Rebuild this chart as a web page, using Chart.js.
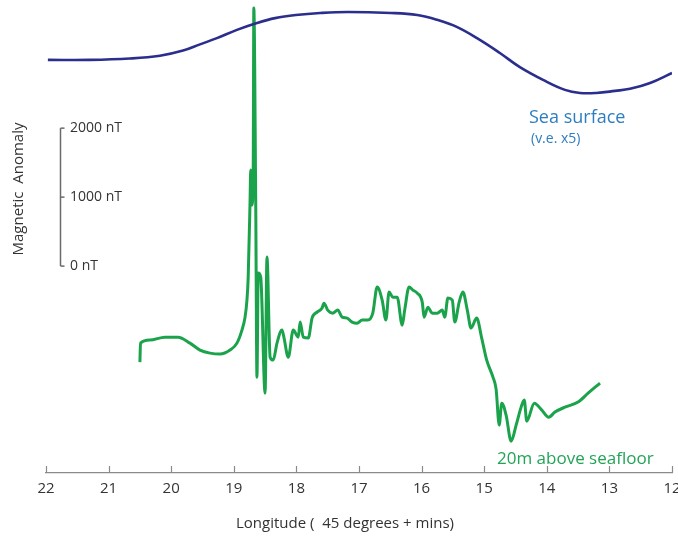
<!DOCTYPE html>
<html><head><meta charset="utf-8">
<script src="https://cdn.jsdelivr.net/npm/chart.js@4.4.0/dist/chart.umd.min.js"></script>
<style>html,body{margin:0;padding:0;background:#fff}</style>
</head><body>
<canvas id="c" width="678" height="537"></canvas>
<script>
// Longitude tick labels (minutes past 45 degrees)
const longitudeTicks = [22, 21, 20, 19, 18, 17, 16, 15, 14, 13, 12];
// Scale bar values (nT)
const scaleBarTicks = [0, 1000, 2000];

// Sea surface profile (v.e. x5), relative anomaly
const seaLon = [21.97, 21.30, 20.66, 20.18, 19.81, 19.54, 19.27, 18.95, 18.63, 18.34, 18.01, 17.62, 17.18, 16.49, 16.07, 15.75, 15.43, 15.07, 14.75, 14.43, 14.06, 13.71, 13.47, 13.21, 12.91, 12.67, 12.35, 12.00];
const seaVal = [-102, -102, -98, -90, -75, -57, -39, -15, 5, 19, 28, 34, 37, 34, 28, 14, -7, -44, -82, -123, -160, -189, -198, -198, -192, -186, -169, -140];

// 20 m above seafloor profile (nT)
const floorLon = [20.50, 20.49, 20.34, 20.10, 19.89, 19.70, 19.54, 19.38, 19.22, 19.06, 18.95, 18.87, 18.82, 18.79, 18.77, 18.74, 18.73, 18.71, 18.69, 18.68, 18.65, 18.63, 18.61, 18.57, 18.50, 18.47, 18.42, 18.37, 18.31, 18.23, 18.20, 18.13, 18.05, 17.97, 17.94, 17.89, 17.81, 17.75, 17.67, 17.59, 17.56, 17.50, 17.42, 17.34, 17.27, 17.19, 17.11, 17.03, 16.95, 16.86, 16.78, 16.71, 16.63, 16.57, 16.52, 16.46, 16.39, 16.31, 16.27, 16.20, 16.14, 16.07, 15.99, 15.96, 15.90, 15.83, 15.75, 15.67, 15.63, 15.58, 15.51, 15.47, 15.40, 15.34, 15.27, 15.21, 15.12, 15.04, 14.96, 14.86, 14.81, 14.76, 14.72, 14.65, 14.57, 14.49, 14.41, 14.36, 14.32, 14.20, 14.08, 13.97, 13.87, 13.71, 13.50, 13.34, 13.15];
const floorNT = [-1392, -1117, -1073, -1030, -1030, -1117, -1218, -1262, -1276, -1218, -1117, -928, -740, -493, -160, 957, 1392, 885, 1392, 3741, 957, -1610, -102, -160, -1842, 131, -1320, -1363, -1117, -928, -1030, -1320, -928, -1030, -812, -1030, -1044, -754, -667, -609, -537, -638, -682, -638, -740, -754, -812, -827, -783, -783, -682, -305, -493, -783, -377, -450, -450, -856, -638, -305, -348, -392, -522, -740, -595, -682, -682, -638, -740, -464, -493, -812, -522, -377, -638, -899, -754, -1044, -1363, -1610, -1784, -2306, -1987, -2161, -2538, -2306, -2045, -1943, -2248, -1987, -2088, -2190, -2117, -2045, -1972, -1842, -1697];

const FONT = '"Open Sans", "Noto Sans", sans-serif';

const seaData = seaLon.map((x, i) => ({x, y: seaVal[i]}));
const floorData = floorLon.map((x, i) => ({x, y: floorNT[i]}));

const decor = {
  id: 'decor',
  afterDraw(chart) {
    const ctx = chart.ctx;
    const xs = chart.scales.x, ys = chart.scales.y;
    const base = chart.chartArea.bottom;
    ctx.save();
    // upward tick marks on the longitude axis
    ctx.strokeStyle = '#8a8a8a';
    ctx.lineWidth = 1.2;
    longitudeTicks.forEach(v => {
      const px = Math.round(xs.getPixelForValue(v)) + 0.5;
      ctx.beginPath(); ctx.moveTo(px, base); ctx.lineTo(px, base - 7); ctx.stroke();
    });
    // vertical scale bar
    const bx = 60.5;
    const yTop = ys.getPixelForValue(scaleBarTicks[scaleBarTicks.length - 1]);
    const yBot = ys.getPixelForValue(scaleBarTicks[0]);
    ctx.strokeStyle = '#6a6a6a';
    ctx.lineWidth = 1.5;
    ctx.beginPath(); ctx.moveTo(bx, yTop); ctx.lineTo(bx, yBot); ctx.stroke();
    ctx.fillStyle = '#333';
    ctx.font = '14px ' + FONT;
    ctx.textBaseline = 'middle';
    ctx.textAlign = 'left';
    scaleBarTicks.forEach(v => {
      const py = ys.getPixelForValue(v);
      ctx.beginPath(); ctx.moveTo(bx, py); ctx.lineTo(bx + 4, py); ctx.stroke();
      ctx.fillText(v + ' nT', 70, py);
    });
    // axis label (rotated)
    ctx.save();
    ctx.translate(19, 189);
    ctx.rotate(-Math.PI / 2);
    ctx.textAlign = 'center';
    ctx.font = '15px ' + FONT;
    ctx.fillStyle = '#333';
    ctx.fillText('Magnetic  Anomaly', 0, 0);
    ctx.restore();
    // series labels
    ctx.textAlign = 'left';
    ctx.fillStyle = '#2e7dbf';
    ctx.font = '18px ' + FONT;
    ctx.fillText('Sea surface', 529, 118);
    ctx.font = '14px ' + FONT;
    ctx.fillText('(v.e. x5)', 531, 139);
    ctx.fillStyle = '#22a455';
    ctx.font = '17px ' + FONT;
    ctx.fillText('20m above seafloor', 497, 459);
    // x axis title
    ctx.fillStyle = '#333';
    ctx.font = '15px ' + FONT;
    ctx.textAlign = 'center';
    ctx.fillText('Longitude (  45 degrees + mins)', 345, 524);
    ctx.restore();
  }
};

new Chart(document.getElementById('c'), {
  type: 'line',
  data: {
    datasets: [
      {label: 'Sea surface', data: seaData, yAxisID: 'y2', borderColor: '#2b2e8c', borderWidth: 2.6, pointRadius: 0, tension: 0.4, fill: false},
      {label: '20m above seafloor', data: floorData, yAxisID: 'y', borderColor: '#1ba34c', borderWidth: 3, pointRadius: 0, cubicInterpolationMode: 'monotone', fill: false, clip: false}
    ]
  },
  options: {
    responsive: false,
    animation: false,
    layout: {padding: {top: 4, left: 46, right: 6, bottom: 0}},
    plugins: {legend: {display: false}, tooltip: {enabled: false}},
    scales: {
      x: {
        type: 'linear', reverse: true, min: 12, max: 22,
        afterBuildTicks: s => { s.ticks = longitudeTicks.map(v => ({value: v})); },
        afterFit: s => { s.height = 64; s.paddingLeft = 0; s.paddingRight = 0; },
        ticks: {autoSkip: false, maxRotation: 0, padding: 7, color: '#333', font: {size: 15, family: FONT}, callback: v => String(v)},
        grid: {display: false, drawTicks: false},
        border: {display: true, color: '#8a8a8a', width: 1.2}
      },
      y: {type: 'linear', min: -3000, max: 3800, display: false},
      y2: {type: 'linear', min: -1300, max: 60, display: false}
    }
  },
  plugins: [decor]
});
</script>
</body></html>
